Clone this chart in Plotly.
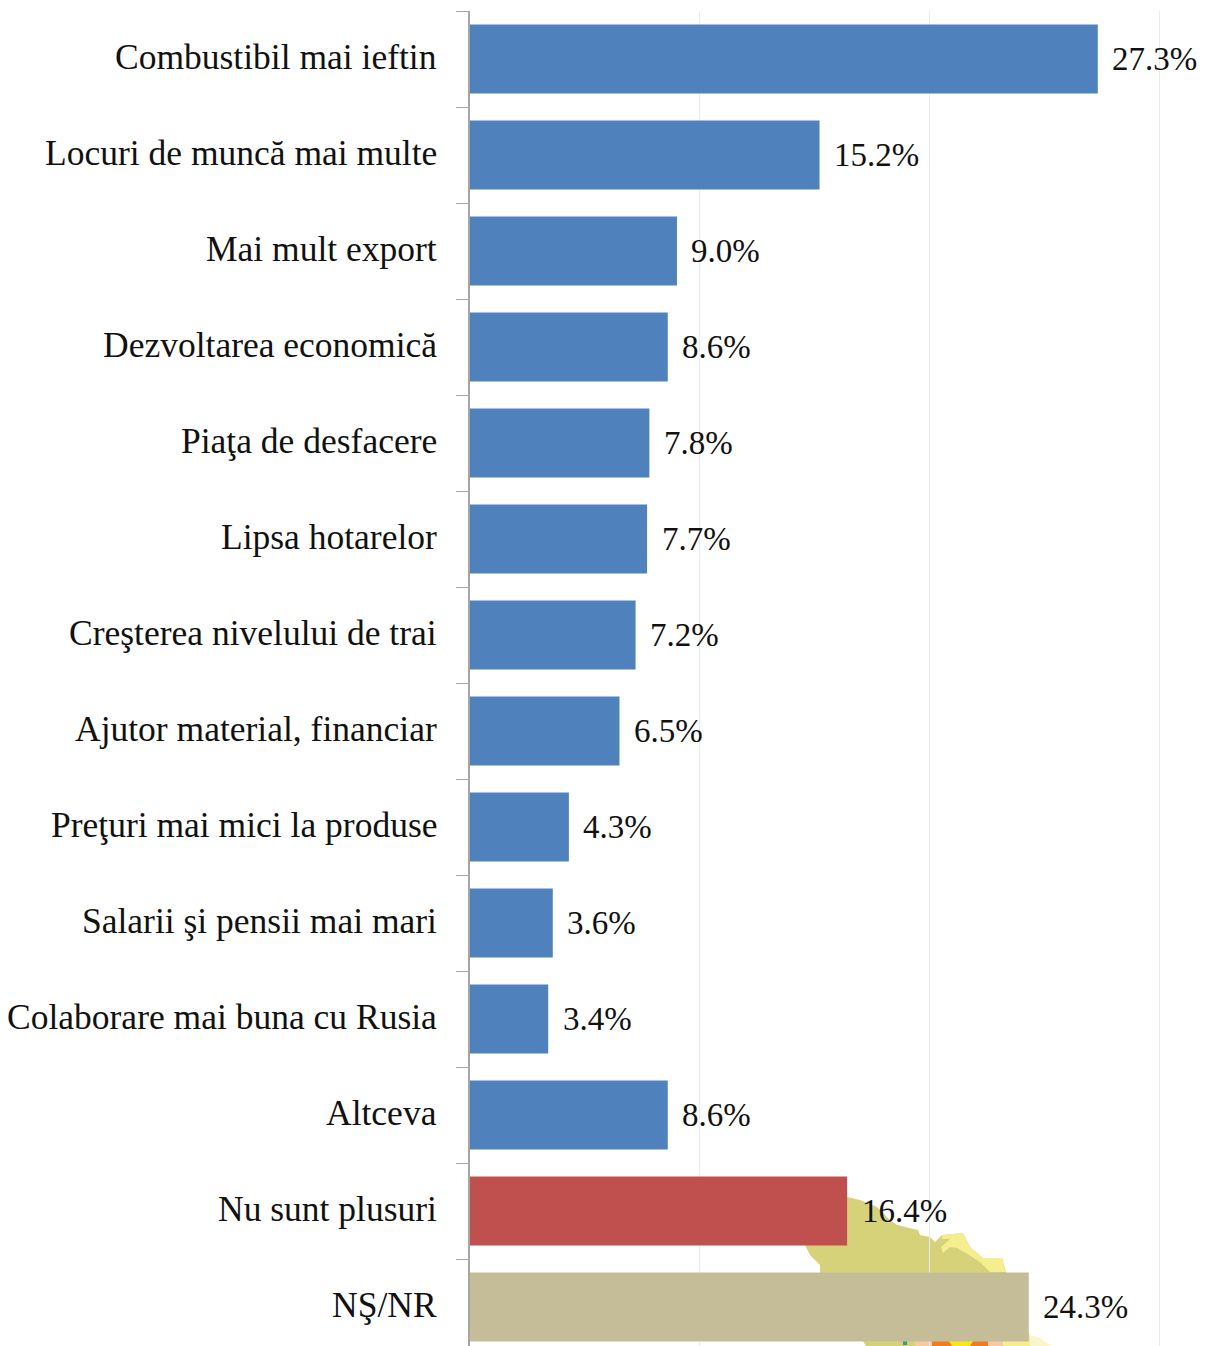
import plotly.graph_objects as go

categories = ["Combustibil mai ieftin", "Locuri de muncă mai multe", "Mai mult export",
              "Dezvoltarea economică", "Piaţa de desfacere", "Lipsa hotarelor",
              "Creşterea nivelului de trai", "Ajutor material, financiar",
              "Preţuri mai mici la produse", "Salarii şi pensii mai mari",
              "Colaborare mai buna cu Rusia", "Altceva", "Nu sunt plusuri", "NŞ/NR"]
values = [27.3, 15.2, 9.0, 8.6, 7.8, 7.7, 7.2, 6.5, 4.3, 3.6, 3.4, 8.6, 16.4, 24.3]
colors = ["#4F81BD"] * 12 + ["#C0504D", "#C4BD97"]
FONT = "Liberation Serif"

# page offset (body margin) and plot box, in pixels
OFF = 8
L, T, W_FIG, H_FIG = 462, 3, 1202, 1338
PW, PH = W_FIG - L, H_FIG - T

def px_path(points):
    parts = []
    for i, (x, y) in enumerate(points):
        xp = (x - OFF - L) / PW
        yp = 1 - (y - OFF - T) / PH
        parts.append(f"{'M' if i == 0 else 'L'}{xp:.5f},{yp:.5f}")
    return " ".join(parts) + " Z"

# decorative background map fragment behind the last two bars
map_shapes = [
    ("#D6D27A", [(805, 1245), (846, 1245), (847, 1197), (860, 1200), (877, 1207), (890, 1220), (897, 1225),
                 (918, 1230), (920, 1235), (930, 1237), (935, 1242), (942, 1235), (963, 1233),
                 (970, 1247), (983, 1258), (1002, 1258), (1006, 1272), (1029, 1335), (1032, 1346),
                 (866, 1346), (820, 1272), (820, 1265), (810, 1255)]),
    ("#F4EE8E", [(942, 1235), (963, 1233), (970, 1247), (983, 1258), (1002, 1258), (1006, 1272),
                 (990, 1272), (980, 1262), (966, 1253), (957, 1248), (950, 1247), (943, 1253),
                 (941, 1247), (950, 1239), (942, 1239)]),
    ("#FAF6CC", [(1029, 1335), (1040, 1338), (1052, 1346), (1030, 1346)]),
    ("#F4EE8E", [(1003, 1335), (1030, 1335), (1030, 1346), (1003, 1346)]),
    ("#F6C9A0", [(915, 1335), (932, 1335), (932, 1346), (915, 1346)]),
    ("#EE7D22", [(932, 1335), (988, 1335), (988, 1346), (932, 1346)]),
    ("#F7E71D", [(945, 1335), (977, 1335), (970, 1346), (952, 1346)]),
    ("#F6C9A0", [(988, 1335), (1003, 1335), (1003, 1346), (988, 1346)]),
    ("#2E9E8F", [(903, 1335), (907, 1335), (907, 1345), (903, 1345)]),
]
shapes = [dict(type="path", xref="paper", yref="paper", path=px_path(pts), fillcolor=col,
               line_width=0, layer="below") for col, pts in map_shapes]

fig = go.Figure(go.Bar(x=values, y=categories, orientation="h", width=0.72,
                       marker=dict(color=colors, line_width=0), showlegend=False))
for c, v in zip(categories, values):
    fig.add_annotation(x=v, y=c, text=f"{v:.1f}%", showarrow=False, xanchor="left",
                       xshift=12.5, yshift=0, font=dict(family=FONT, size=33, color="#111"))
    fig.add_annotation(x=0, y=c, text=c, showarrow=False, xanchor="right",
                       xshift=-31, yshift=2, font=dict(family=FONT, size=35.5, color="#111"))

fig.update_layout(
    width=W_FIG, height=H_FIG, margin=dict(l=L, r=0, t=T, b=0, pad=0),
    paper_bgcolor="white", plot_bgcolor="rgba(0,0,0,0)", bargap=0.28, shapes=shapes,
    font=dict(family=FONT, size=35, color="#111"),
    xaxis=dict(range=[0, 32.18], dtick=10, showticklabels=False, showgrid=True,
               gridcolor="#E8EBEF", gridwidth=1, zeroline=False, showline=False, ticks=""),
    yaxis=dict(type="category", categoryorder="array", categoryarray=categories,
               range=[13.406, -0.5], tickson="boundaries", ticks="outside", ticklen=12,
               tickcolor="#A6A6A6", tickwidth=1, showline=True, linecolor="#A6A6A6",
               linewidth=2, showgrid=False, zeroline=False, showticklabels=False),
)
fig.write_html("out.html")
